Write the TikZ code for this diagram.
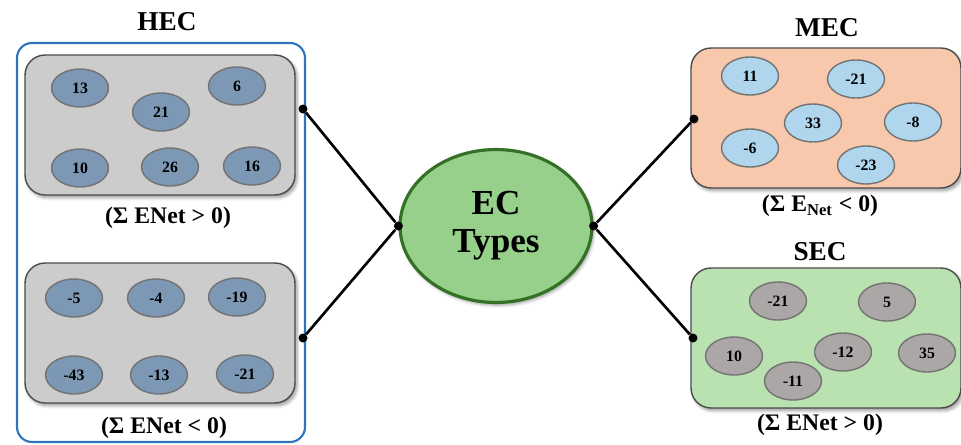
\documentclass[tikz,border=0pt]{standalone}
\usepackage{fontspec}
\setmainfont{Liberation Serif}
\usepackage{tikz}
\usetikzlibrary{shapes.geometric}
\usetikzlibrary{shadows.blur}
\definecolor{hecblue}{RGB}{46,117,190}
\definecolor{boxgray}{RGB}{204,204,204}
\definecolor{hecell}{RGB}{124,152,180}
\definecolor{mecfill}{RGB}{248,200,172}
\definecolor{mecell}{RGB}{176,214,238}
\definecolor{secfill}{RGB}{186,226,176}
\definecolor{secell}{RGB}{172,167,167}
\definecolor{ecfill}{RGB}{150,208,138}
\definecolor{ecline}{RGB}{52,112,38}
\tikzset{
	group/.style={draw=black!70, line width=0.8pt, rounded corners=0.4cm,
			minimum width=5.4cm, minimum height=2.8cm,
			blur shadow={shadow xshift=1.2pt, shadow yshift=-1.5pt, shadow blur steps=6}},
	member/.style={ellipse, draw=black!55, line width=0.8pt, inner sep=0pt,
			minimum width=1.14cm, minimum height=0.76cm,
			font=\fontsize{9}{10}\selectfont\bfseries},
	title/.style={font=\fontsize{15.5}{17}\selectfont\bfseries},
	cond/.style={font=\fontsize{13.5}{15}\selectfont\bfseries},
	knot/.style={circle, fill=black, inner sep=0pt, minimum size=0.18cm}
}

\begin{document}
\begin{tikzpicture}[x=0.02cm, y=-0.02cm]
  \useasboundingbox (0,0) rectangle (961,444);

  % HEC
  \node[title] (hec) at (167,22) {HEC};
  \draw[hecblue, line width=1.2pt, rounded corners=0.3cm] (17,43) rectangle (305,442);
  \node[group, fill=boxgray] (hec1) at (160,125) {};
  \node[group, fill=boxgray] (hec2) at (160,333) {};
    \node[member, fill=hecell] (h1) at (80,88) {13};
    \node[member, fill=hecell] (h2) at (161,112) {21};
    \node[member, fill=hecell] (h3) at (237,86) {6};
    \node[member, fill=hecell] (h4) at (80,168) {10};
    \node[member, fill=hecell] (h5) at (170,167) {26};
    \node[member, fill=hecell] (h6) at (252,166) {16};
    \node[member, fill=hecell] (h7) at (74,298) {-5};
    \node[member, fill=hecell] (h8) at (156,298) {-4};
    \node[member, fill=hecell] (h9) at (237,297) {-19};
    \node[member, fill=hecell] (h10) at (74,375) {-43};
    \node[member, fill=hecell] (h11) at (159,375) {-13};
    \node[member, fill=hecell] (h12) at (245,374) {-21};
  \node[cond] (hecpos) at (168,218) {(Σ ENet > 0)};
  \node[cond] (hecneg) at (164,428) {(Σ ENet < 0)};

  % MEC
  \node[title] (mec) at (827,28) {MEC};
  \node[group, fill=mecfill] (mecbox) at (826,118) {};
    \node[member, fill=mecell] (m1) at (750,76) {11};
    \node[member, fill=mecell] (m2) at (856,79) {-21};
    \node[member, fill=mecell] (m3) at (813,123) {33};
    \node[member, fill=mecell] (m4) at (913,122) {-8};
    \node[member, fill=mecell] (m5) at (750,148) {-6};
    \node[member, fill=mecell] (m6) at (866,165) {-23};
  \node[cond] (mecneg) at (820,206) {(Σ E\textsubscript{Net} < 0)};

  % SEC
  \node[title] (sec) at (820,252) {SEC};
  \node[group, fill=secfill] (secbox) at (826,338) {};
    \node[member, fill=secell] (s1) at (778,301) {-21};
    \node[member, fill=secell] (s2) at (887,302) {5};
    \node[member, fill=secell] (s3) at (734,356) {10};
    \node[member, fill=secell] (s4) at (843,352) {-12};
    \node[member, fill=secell] (s5) at (927,353) {35};
    \node[member, fill=secell] (s6) at (793,381) {-11};
  \node[cond] (secpos) at (820,425) {(Σ ENet > 0)};

  % EC types
  \node[ellipse, fill=ecfill, draw=ecline, line width=1.8pt, minimum width=3.84cm,
        minimum height=3.06cm, align=center, font=\fontsize{20}{21.5}\selectfont\bfseries,
        blur shadow={shadow xshift=1pt, shadow yshift=-1.5pt}] (ec) at (496,226) {EC\\Types};

  \node[knot] (k1) at (303,109) {};
  \node[knot] (k2) at (303,338) {};
  \node[knot] (k3) at (694,119) {};
  \node[knot] (k4) at (693,338) {};
  \node[knot] (kl) at (ec.west) {};
  \node[knot] (kr) at (ec.east) {};

  \draw[line width=1.5pt] (k1) -- (kl);
  \draw[line width=1.5pt] (k2) -- (kl);
  \draw[line width=1.5pt] (k3) -- (kr);
  \draw[line width=1.5pt] (k4) -- (kr);
\end{tikzpicture}
\end{document}
